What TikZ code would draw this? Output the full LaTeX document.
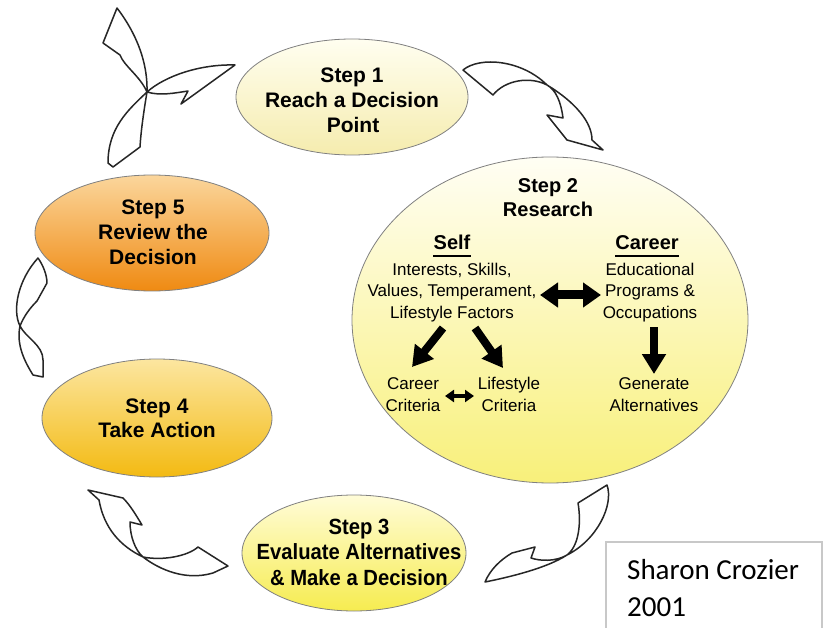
\documentclass[tikz,border=0pt]{standalone}
\usepackage{fontspec}
\setmainfont{Liberation Sans}
\newfontfamily\arialc[FakeStretch=0.92]{Liberation Sans}
\newfontfamily\calibri{Carlito}
\usetikzlibrary{shapes.geometric,arrows.meta}
\definecolor{c1t}{HTML}{FFFEF0}
\definecolor{c1b}{HTML}{F5ECAE}
\definecolor{c2t}{HTML}{FFFEF4}
\definecolor{c2b}{HTML}{F8F07A}
\definecolor{c3t}{HTML}{FFFCD8}
\definecolor{c3b}{HTML}{F6EC50}
\definecolor{c4t}{HTML}{FCE6A0}
\definecolor{c4m}{HTML}{F8CF4C}
\definecolor{c4b}{HTML}{F3BA12}
\definecolor{c5t}{HTML}{FBD69C}
\definecolor{c5m}{HTML}{F6A436}
\definecolor{c5b}{HTML}{EF8A12}
\definecolor{boxgray}{HTML}{C8C8C8}
\tikzset{
  stepell/.style={ellipse, draw=black!50, line width=0.8pt, inner sep=0pt},
  t21/.style={anchor=base, inner sep=0pt, font=\fontsize{21}{25}\selectfont\bfseries},
  t20/.style={anchor=base, inner sep=0pt, font=\fontsize{20}{24}\selectfont\bfseries},
  t22c/.style={anchor=base, inner sep=0pt, font=\fontsize{22}{25}\selectfont\arialc\bfseries},
  t17/.style={anchor=base, inner sep=0pt, font=\fontsize{17}{21}\selectfont},
  credit/.style={anchor=base west, inner sep=0pt, font=\fontsize{29}{37}\selectfont\calibri},
  ribbon/.style={draw=black!85, fill=white, line width=1.5pt, line join=round},
  ulin/.style={line width=2.2pt},
  bigarrow/.style={line width=9pt, {Triangle[length=18pt,width=24pt]}-{Triangle[length=18pt,width=24pt]}},
  smallarrow/.style={line width=4pt, {Triangle[length=9pt,width=12pt]}-{Triangle[length=9pt,width=12pt]}},
  downarrow/.style={line width=8pt, -{Triangle[length=20pt,width=23pt]}}
}
\begin{document}
\begin{tikzpicture}[x=1pt,y=-1pt]
\useasboundingbox[fill=white] (0,0) rectangle (827,628);

% ---- curved ribbon arrows ----
% Step 5 -> Step 1 (top-left cluster)
\coordinate (j) at (147,92);
\draw[ribbon] (j) .. controls (140,76) and (124,66) .. (120,55) -- (103,43) -- (117,8)
  .. controls (130,25) and (148,55) .. (j) -- cycle;
\draw[ribbon] (j) .. controls (165,76) and (200,64) .. (235,65) -- (181,104) -- (188,91)
  .. controls (175,93) and (160,96) .. (j) -- cycle;
\draw[ribbon] (j) .. controls (128,110) and (108,128) .. (108,163) -- (113,167) -- (140,147)
  .. controls (141,130) and (144,110) .. (j) -- cycle;
% Step 1 -> Step 2
\draw[ribbon] (463,70) .. controls (480,56) and (522,60) .. (547,85)
  .. controls (575,102) and (592,122) .. (592,140) -- (603,150) -- (567,140) -- (547,115) -- (563,118)
  .. controls (561,102) and (556,90) .. (547,85)
  .. controls (530,76) and (505,80) .. (493,95) -- cycle;
% Step 2 -> Step 3
\draw[ribbon] (607,485) .. controls (614,505) and (597,540) .. (567,555)
  .. controls (555,562) and (540,561) .. (531,558) -- (535,547) -- (512,553)
  .. controls (500,560) and (490,570) .. (485,582)
  .. controls (510,577) and (547,568) .. (567,555)
  .. controls (580,545) and (581,520) .. (578,503) -- cycle;
% Step 3 -> Step 4
\draw[ribbon] (88,490) -- (123,498) .. controls (130,505) and (136,515) .. (142,525) -- (130,522)
  .. controls (130,536) and (135,550) .. (143,557)
  .. controls (160,570) and (186,581) .. (213,573) -- (228,566) -- (198,547)
  .. controls (188,556) and (163,561) .. (143,557)
  .. controls (120,546) and (104,528) .. (99,500) -- cycle;
% Step 4 -> Step 5
\draw[ribbon] (38,258) .. controls (43,265) and (47,275) .. (47,283) -- (37,301)
  .. controls (30,308) and (24,316) .. (20,326)
  .. controls (26,338) and (43,345) .. (43,360) -- (43,377) -- (33,375)
  .. controls (25,362) and (16,345) .. (20,326)
  .. controls (12,310) and (18,280) .. (38,258) -- cycle;

% ---- step ellipses ----
\node[stepell, minimum width=232pt, minimum height=116pt, top color=c1t, bottom color=c1b] (s1) at (352,97) {};
\node[stepell, minimum width=396pt, minimum height=326pt, top color=c2t, bottom color=c2b] (s2) at (550,320) {};
\node[stepell, minimum width=224pt, minimum height=116pt, top color=c3t, bottom color=c3b] (s3) at (354,553) {};
\node[stepell, minimum width=230pt, minimum height=118pt, top color=c4t, middle color=c4m, bottom color=c4b] (s4) at (157,418) {};
\node[stepell, minimum width=234pt, minimum height=116pt, top color=c5t, middle color=c5m, bottom color=c5b] (s5) at (152,233) {};

% ---- Step 1 ----
\node[t21] (s1a) at (352,83) {Step 1};
\node[t21] (s1b) at (352,108) {Reach a Decision};
\node[t21] (s1c) at (353,133) {Point};

% ---- Step 2 ----
\node[t20] (s2a) at (548,193) {Step 2};
\node[t20] (s2b) at (548,217) {Research};
\node[t20] (self) at (452,250) {Self};
\node[t20] (career) at (647,250) {Career};
\draw[ulin] ([yshift=-6pt]self.base west) -- ([yshift=-6pt]self.base east);
\draw[ulin] ([yshift=-6pt]career.base west) -- ([yshift=-6pt]career.base east);
\node[t17] (int) at (452,276) {Interests, Skills,};
\node[t17] (val) at (452,297) {Values, Temperament,};
\node[t17] (lif) at (452,318) {Lifestyle Factors};
\node[t17] (edu) at (650,276) {Educational};
\node[t17] (prog) at (650,297) {Programs \&};
\node[t17] (occ) at (650,318) {Occupations};
\node[t17] (cc1) at (413,389) {Career};
\node[t17] (cc2) at (413,411) {Criteria};
\node[t17] (lc1) at (509,389) {Lifestyle};
\node[t17] (lc2) at (509,411) {Criteria};
\node[t17] (ga1) at (654,389) {Generate};
\node[t17] (ga2) at (654,411) {Alternatives};

\coordinate (dl1) at (443,328); \coordinate (dl2) at (412,367);
\coordinate (dr1) at (475,328); \coordinate (dr2) at (503,368);
\coordinate (dd1) at (654,327); \coordinate (dd2) at (654,374);
\coordinate (ha1) at (540,295); \coordinate (ha2) at (601,295);
\coordinate (sa1) at (445,396); \coordinate (sa2) at (474,396);
\draw[bigarrow] (ha1) -- (ha2);
\draw[smallarrow] (sa1) -- (sa2);
\draw[downarrow] (dl1) -- (dl2);
\draw[downarrow] (dr1) -- (dr2);
\draw[downarrow] (dd1) -- (dd2);

% ---- Step 3 ----
\node[t22c] (s3a) at (359,534) {Step 3};
\node[t22c] (s3b) at (359,559) {Evaluate Alternatives};
\node[t22c] (s3c) at (359,585) {\& Make a Decision};

% ---- Step 4 ----
\node[t21] (s4a) at (157,413) {Step 4};
\node[t21] (s4b) at (157,437) {Take Action};

% ---- Step 5 ----
\node[t21] (s5a) at (153,215) {Step 5};
\node[t21] (s5b) at (153,240) {Review the};
\node[t21] (s5c) at (153,265) {Decision};

% ---- credit box ----
\fill[white] (606,542) rectangle (822,628);
\draw[boxgray, line width=2pt] (606,629) -- (606,542) -- (822,542) -- (822,629);
\node[credit] (cr1) at (627,579) {Sharon Crozier};
\node[credit] (cr2) at (627,616) {2001};
\end{tikzpicture}
\end{document}
